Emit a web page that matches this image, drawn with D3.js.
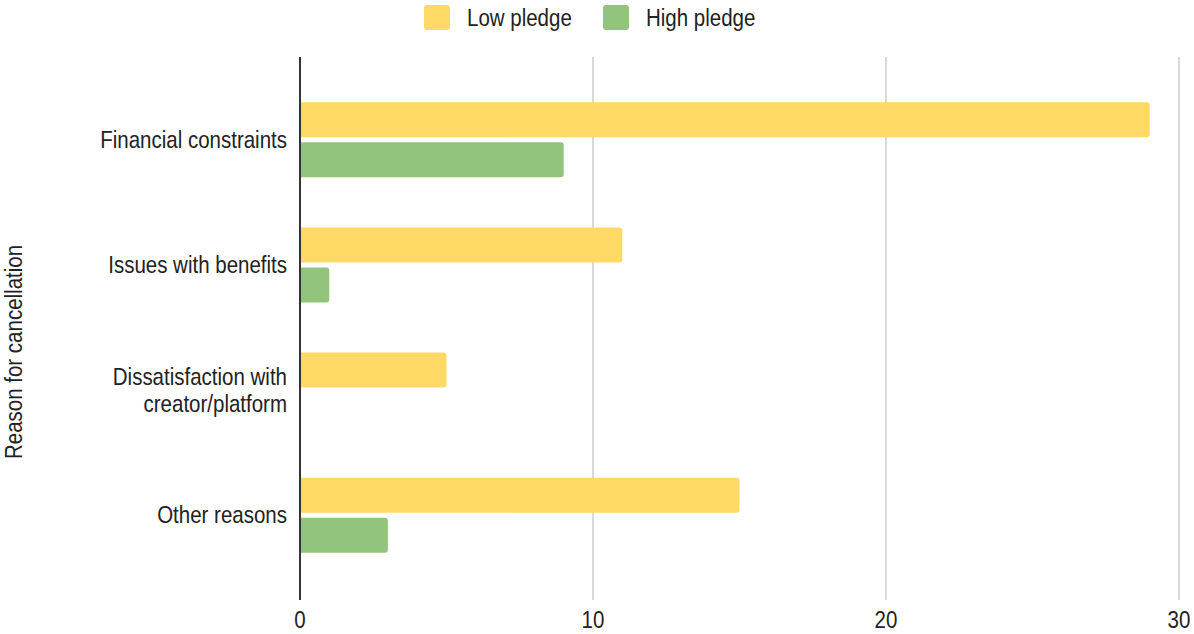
<!DOCTYPE html>
<html>
<head>
<meta charset="utf-8">
<script src="https://cdn.jsdelivr.net/npm/d3@7"></script>
<style>
  body { margin: 0; background: #fff; }
  text { font-family: "Liberation Sans", Arial, sans-serif; fill: #222; }
</style>
</head>
<body>
<div id="chart"></div>
<script>
const categories = ["Financial constraints", "Issues with benefits", "Dissatisfaction with\ncreator/platform", "Other reasons"];
const seriesNames = ["Low pledge", "High pledge"];
const lowPledge = [29, 11, 5, 15];
const highPledge = [9, 1, 0, 3];
const xTicks = [0, 10, 20, 30];
const colors = ["#ffd966", "#93c47d"];

const width = 1194, height = 634;
const margin = { top: 57, right: 15, bottom: 34, left: 300 };
const fontSize = 20.5;
const stretch = 1.15; // reference glyphs are a bit taller than wide

const svg = d3.select("#chart").append("svg")
    .attr("width", width)
    .attr("height", height);

const x = d3.scaleLinear()
    .domain([0, 30])
    .range([margin.left, 1179]);

const y = d3.scaleBand()
    .domain(categories)
    .range([margin.top - 1, height - margin.bottom - 1])
    .paddingOuter(0.17);

const inner = d3.scaleBand()
    .domain(seriesNames)
    .range([y.bandwidth() / 2 - 37.5, y.bandwidth() / 2 + 37.5])
    .paddingInner(0.125);

// text placed in a stretched group
function label(parent, tx, ty, str, anchor, rotate) {
    const g = parent.append("g")
        .attr("transform", `translate(${tx},${ty})` + (rotate ? ` rotate(${rotate})` : "") + ` scale(1,${stretch})`);
    g.append("text")
        .attr("text-anchor", anchor)
        .attr("dy", "0.35em")
        .attr("font-size", fontSize)
        .text(str);
    return g;
}

// gridlines
svg.append("g")
    .selectAll("line")
    .data(xTicks.filter(d => d > 0))
    .enter().append("line")
    .attr("x1", d => x(d)).attr("x2", d => x(d))
    .attr("y1", margin.top).attr("y2", height - margin.bottom)
    .attr("stroke", "#cccccc")
    .attr("stroke-width", 1.5);

// bars, rounded on the right end only
function barPath(x0, x1, y0, h, r) {
    if (x1 - x0 <= 0) return "";
    r = Math.min(r, (x1 - x0));
    return `M${x0},${y0}H${x1 - r}Q${x1},${y0} ${x1},${y0 + r}V${y0 + h - r}Q${x1},${y0 + h} ${x1 - r},${y0 + h}H${x0}Z`;
}

const rows = categories.map((c, i) => ({ cat: c, values: [lowPledge[i], highPledge[i]] }));

const groups = svg.append("g")
    .selectAll("g")
    .data(rows)
    .enter().append("g")
    .attr("transform", d => `translate(0,${y(d.cat)})`);

groups.selectAll("path")
    .data(d => d.values.map((v, j) => ({ key: seriesNames[j], value: v, j })))
    .enter().append("path")
    .attr("d", d => barPath(x(0), x(d.value), inner(d.key), inner.bandwidth(), 3))
    .attr("fill", d => colors[d.j]);

// y axis line
svg.append("line")
    .attr("x1", x(0)).attr("x2", x(0))
    .attr("y1", margin.top).attr("y2", height - margin.bottom)
    .attr("stroke", "#333")
    .attr("stroke-width", 2);

// category labels
const catLayer = svg.append("g");
categories.forEach(d => {
    const lines = d.split("\n");
    const cy = y(d) + y.bandwidth() / 2;
    lines.forEach((ln, k) => {
        label(catLayer, 287, cy + (k - (lines.length - 1) / 2) * 27, ln, "end");
    });
});

// x tick labels
const tickLayer = svg.append("g");
xTicks.forEach(d => label(tickLayer, x(d), 620, d, "middle"));

// y axis title
label(svg, 14, 352, "Reason for cancellation", "middle", -90);

// legend
const legend = svg.append("g");
const legendX = [424, 603];
seriesNames.forEach((s, i) => {
    legend.append("rect")
        .attr("x", legendX[i]).attr("y", 5)
        .attr("width", 26).attr("height", 25)
        .attr("rx", 3)
        .attr("fill", colors[i]);
    label(legend, legendX[i] + 43, 18, s, "start");
});
</script>
</body>
</html>
